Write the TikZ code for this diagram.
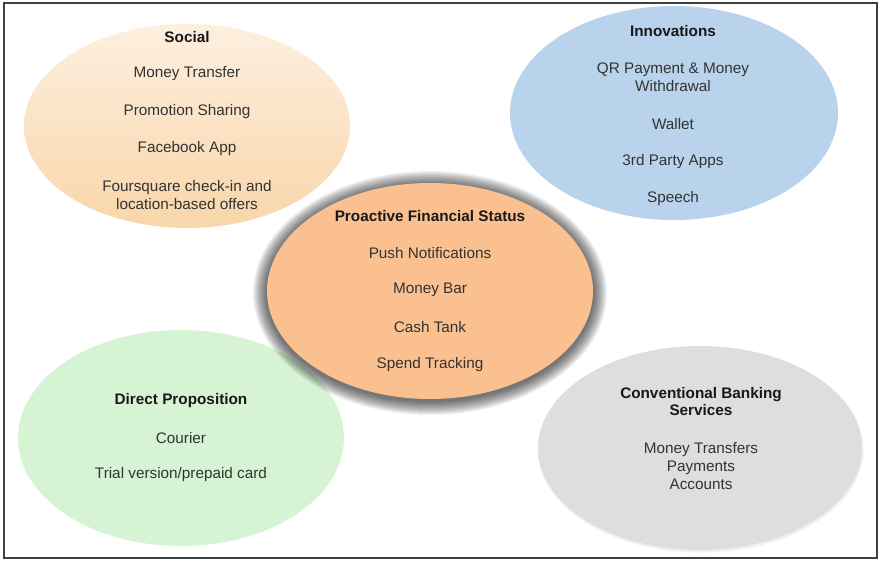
\documentclass[tikz,border=0pt]{standalone}
\usepackage{fontspec}
\setmainfont{Liberation Sans}
\usetikzlibrary{shapes.geometric}
\definecolor{socTop}{HTML}{FDEFDF}
\definecolor{socBot}{HTML}{F9D6AA}
\definecolor{innoFill}{HTML}{B9D3EC}
\definecolor{coreFill}{HTML}{FAC08F}
\definecolor{directFill}{HTML}{D6F3D3}
\definecolor{convFill}{HTML}{DEDEDE}
\definecolor{itemText}{HTML}{333333}
\definecolor{frameLine}{HTML}{404040}
\tikzset{
  bubble/.style={ellipse, draw=none, inner sep=0pt},
  item/.style={font=\fontsize{15.3}{18}\selectfont, text=itemText, inner sep=0pt, align=center},
  title/.style={font=\fontsize{15.3}{17}\selectfont\bfseries, text=black!90, inner sep=0pt, align=center},
  frame/.style={draw=frameLine, line width=1.6pt}
}
\begin{document}
\begin{tikzpicture}[x=1pt,y=-1pt]
\useasboundingbox (0,0) rectangle (882,561);
\fill[white] (0,0) rectangle (882,561);
\draw[frame] (4,3) rectangle (877,558);

% Social
\node[bubble, top color=socTop, bottom color=socBot, minimum width=326pt, minimum height=204pt] (social) at (187,126) {};
\node[title] (socialT) at (187,37) {Social};
\node[item] (s1) at (187,74) {Money Transfer};
\node[item] (s2) at (187,112) {Promotion Sharing};
\node[item] (s3) at (187,149) {Facebook App};
\node[item] (s4) at (187,195) {Foursquare check-in and\\location-based offers};

% Innovations
\node[bubble, fill=innoFill, minimum width=328pt, minimum height=214pt] (inno) at (674,113) {};
\node[title] (innoT) at (673,31) {Innovations};
\node[item] (i1) at (673,77) {QR Payment \& Money\\Withdrawal};
\node[item] (i2) at (673,124) {Wallet};
\node[item] (i3) at (673,162) {3rd Party Apps};
\node[item] (i4) at (673,199) {Speech};

% Direct Proposition
\node[bubble, fill=directFill, minimum width=326pt, minimum height=216pt] (direct) at (181,438) {};
\node[title] (directT) at (181,401) {Direct Proposition};
\node[item] (d1) at (181,438) {Courier};
\node[item] (d2) at (181,475) {Trial version/prepaid card};

% Conventional Banking
\fill[black, opacity=0.06] (700.5,449.5) ellipse (163pt and 103pt);
\node[bubble, fill=convFill, minimum width=324pt, minimum height=204pt] (conv) at (700,448) {};
\node[title] (convT) at (701,402) {Conventional Banking\\Services};
\node[item] (c1) at (701,466) {Money Transfers\\Payments\\Accounts};

% Central (with glow)
\foreach \i in {1,...,14} {
  \fill[black, opacity=0.05] (430,293) ellipse ({(163+\i)*1pt} and {(108+\i)*1pt});
}
\node[bubble, fill=coreFill, minimum width=326pt, minimum height=216pt] (core) at (430,291) {};
\node[title] (coreT) at (430,216) {Proactive Financial Status};
\node[item] (p1) at (430,253) {Push Notifications};
\node[item] (p2) at (430,290) {Money Bar};
\node[item] (p3) at (430,327) {Cash Tank};
\node[item] (p4) at (430,365) {Spend Tracking};
\end{tikzpicture}
\end{document}
